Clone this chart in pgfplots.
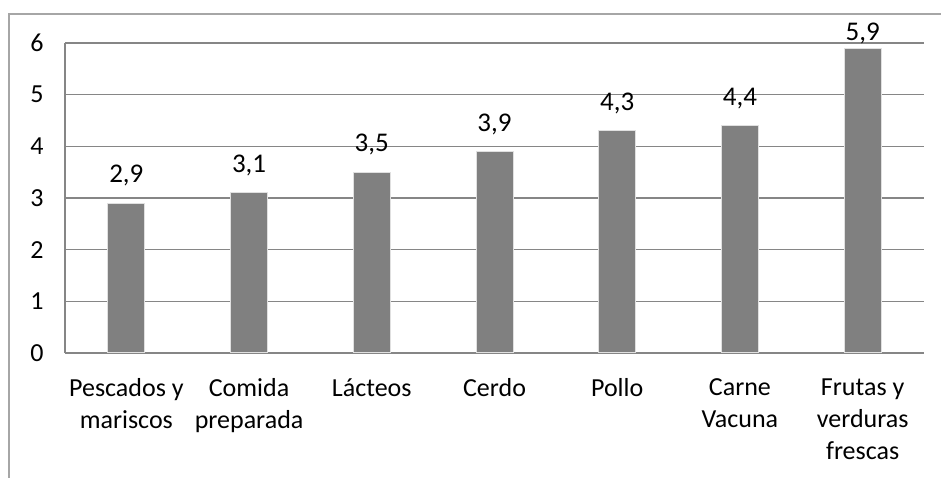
\documentclass[border=0pt]{standalone}
\usepackage{pgfplots}
\pgfplotsset{compat=1.18}
\usepackage{fontspec}
\setmainfont{Carlito}
\definecolor{gridc}{HTML}{868686}
\definecolor{borderc}{HTML}{A6A6A6}
\definecolor{barc}{HTML}{808080}
\begin{document}
\begin{tikzpicture}[x=1pt,y=1pt]
\path[use as bounding box] (0,0) rectangle (941,478);
\draw[borderc, line width=1.5pt] (9,0) -- (9,464) -- (941,464);
\begin{axis}[
  at={(65pt,125pt)}, anchor=south west,
  scale only axis, width=859pt, height=310pt,
  xmin=-0.5, xmax=6.5, ymin=0, ymax=6,
  ytick={0,1,...,6},
  xtick={0,...,6},
  xticklabels={{Pescados y\\mariscos},{Comida\\preparada},{Lácteos},{Cerdo},{Pollo},{Carne\\Vacuna},{Frutas y\\verduras\\frescas}},
  xticklabel style={align=center, font=\fontsize{26}{32}\selectfont, yshift=-22pt},
  yticklabel style={font=\fontsize{26}{31}\selectfont, xshift=-18pt},
  /pgf/number format/assume math mode=true,
  major tick length=0pt,
  axis line style={gridc, line width=1.2pt},
  axis x line*=bottom, axis y line*=left,
  ymajorgrids, grid style={gridc, line width=1.2pt},
  ybar, bar width=37pt, bar shift=0pt,
  nodes near coords,
  nodes near coords style={font=\fontsize{27}{31}\selectfont, yshift=13pt,
    /pgf/number format/fixed, /pgf/number format/fixed zerofill,
    /pgf/number format/precision=1, /pgf/number format/use comma},
]
\addplot[fill=barc, draw=black!12, line width=1pt] coordinates {(0,2.9) (1,3.1) (2,3.5) (3,3.9) (4,4.3) (5,4.4)};
\addplot[fill=barc, draw=black!12, line width=1pt,
  every node near coord/.append style={yshift=-13pt}] coordinates {(6,5.9)};
\end{axis}
\end{tikzpicture}
\end{document}
